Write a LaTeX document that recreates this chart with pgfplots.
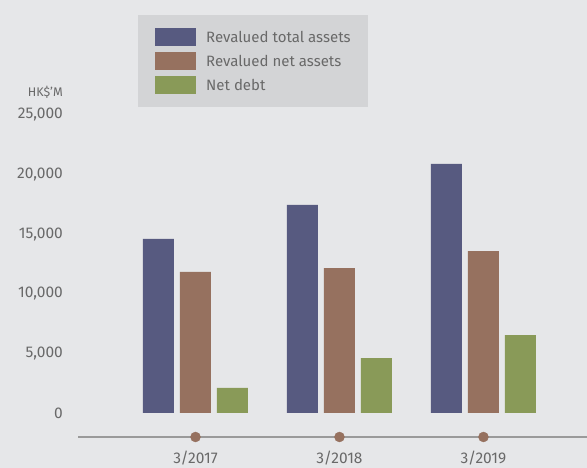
\documentclass[border=0pt]{standalone}
\usepackage{pgfplots}
\pgfplotsset{compat=1.18}
\usepackage{fontspec}
\setmainfont{Fira Sans}
\definecolor{bg}{RGB}{230,231,233}
\definecolor{legbg}{RGB}{211,212,214}
\definecolor{cnavy}{RGB}{87,90,128}
\definecolor{cbrown}{RGB}{150,113,95}
\definecolor{cgreen}{RGB}{137,154,88}
\definecolor{axgray}{RGB}{154,154,154}
\definecolor{txt}{RGB}{105,105,105}
\begin{document}
\begin{tikzpicture}
\useasboundingbox (0pt,0pt) rectangle (587pt,468pt);
\fill[bg] (0pt,0pt) rectangle (587pt,468pt);
\clip (0pt,0pt) rectangle (587pt,468pt);
\begin{axis}[
  at={(78pt,31pt)}, anchor=south west,
  scale only axis, width=509pt, height=322pt,
  xmin=-0.816, xmax=2.719, ymin=-2013, ymax=25000,
  clip=false,
  separate axis lines,
  axis x line*=bottom, axis y line*=left,
  y axis line style={draw=none},
  x axis line style={draw=axgray, line width=1.5pt, -},
  xtick={0,1,2}, xticklabels={3/2017,3/2018,3/2019},
  ytick={0,5000,10000,15000,20000,25000},
  major tick length=0pt,
  tick style={draw=none},
  /pgf/number format/assume math mode=true,
  /pgf/number format/1000 sep={,},
  scaled y ticks=false,
  yticklabel style={font=\fontsize{15.5}{18}\selectfont, text=txt, anchor=east, inner sep=0pt, xshift=-15pt},
  xticklabel style={font=\fontsize{15.5}{18}\selectfont, text=txt, anchor=base, inner sep=0pt, yshift=-27pt},
  bar width=31pt,
  legend style={at={(0.1179,1.3106)}, anchor=north west, fill=legbg, draw=none,
    inner xsep=17pt, inner ysep=13pt, row sep=6pt,
    font=\fontsize{15}{17}\selectfont, text=txt,
    nodes={inner sep=0pt, anchor=west},
    /tikz/every odd column/.style={column sep=10pt}},
  legend cell align=left,
  legend image code/.code={\path[#1, draw=none] (0pt,-9pt) rectangle (41pt,9pt);},
]
\addplot[ybar, fill=cnavy, draw=none, bar shift=-37pt] coordinates {(0,14600) (1,17450) (2,20890)};
\addplot[ybar, fill=cbrown, draw=none, bar shift=0pt] coordinates {(0,11830) (1,12160) (2,13590)};
\addplot[ybar, fill=cgreen, draw=none, bar shift=37pt] coordinates {(0,2100) (1,4610) (2,6540)};
\legend{Revalued total assets, Revalued net assets, Net debt}
\addplot[only marks, color=cbrown, mark=*, mark size=5pt, mark options={fill=cbrown, draw=none}, forget plot] coordinates {(0,-2013) (1,-2013) (2,-2013)};
\node[anchor=base east, inner sep=0pt, text=txt, font=\fontsize{12.5}{14}\selectfont] at (rel axis cs:-0.0295,1.0559) {HK\$’M};
\end{axis}
\end{tikzpicture}
\end{document}
